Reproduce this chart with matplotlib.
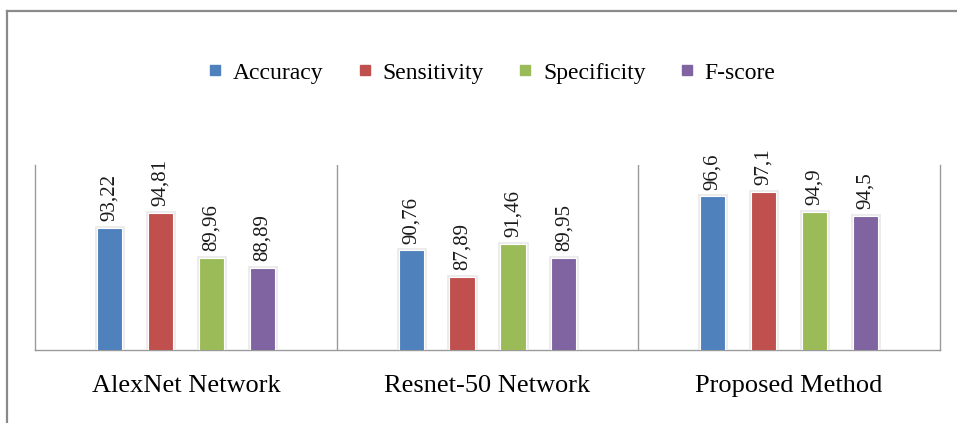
import matplotlib
matplotlib.use("Agg")
import matplotlib.pyplot as plt
import matplotlib.patheffects as pe
from matplotlib.lines import Line2D
import numpy as np

plt.rcParams['font.family'] = ['Liberation Serif', 'DejaVu Serif']

methods = ["AlexNet Network", "Resnet-50 Network", "Proposed Method"]
metrics = ["Accuracy", "Sensitivity", "Specificity", "F-score"]
accuracy = [93.22, 90.76, 96.6]
sensitivity = [94.81, 87.89, 97.1]
specificity = [89.96, 91.46, 94.9]
fscore = [88.89, 89.95, 94.5]
value_labels = [
    ["93,22", "90,76", "96,6"],
    ["94,81", "87,89", "97,1"],
    ["89,96", "91,46", "94,9"],
    ["88,89", "89,95", "94,5"],
]
colors = ["#4F81BD", "#C0504D", "#9BBB59", "#8064A2"]

W, H = 957, 423
fig = plt.figure(figsize=(W / 100, H / 100), dpi=100)
ax = fig.add_axes([35 / W, (H - 350) / H, 905 / W, 185 / H])

series = [accuracy, sensitivity, specificity, fscore]
x = np.arange(len(methods))
step = 0.169
bw = 0.083
for k, (vals, col) in enumerate(zip(series, colors)):
    pos = x + (k - 1.5) * step
    bars = ax.bar(pos, vals, width=bw, color=col, edgecolor="white",
                  linewidth=0.8, zorder=3)
    # soft light-gray halo around each bar
    for b in bars:
        b.set_path_effects([pe.withStroke(linewidth=3.5, foreground="#ebebeb"),
                            pe.Normal()])
    for p, v, lab in zip(pos, vals, value_labels[k]):
        ax.annotate(lab, (p, v), xytext=(0, 5), textcoords="offset points",
                    rotation=90, ha="center", va="bottom", fontsize=15,
                    color="#1a1a1a")

ax.set_xlim(-0.5, len(methods) - 0.5)
ax.set_ylim(80, 100)
ax.set_yticks([])
ax.set_xticks(x)
ax.set_xticklabels(methods, fontsize=19)
ax.tick_params(axis="x", length=0, pad=18)
for s in ["left", "right", "bottom"]:
    ax.spines[s].set_color("#9a9a9a")
    ax.spines[s].set_linewidth(1.0)
ax.spines["top"].set_visible(False)
for sep in x[:-1] + 0.5:
    ax.axvline(sep, color="#9a9a9a", linewidth=1.0, zorder=1)

handles = [Line2D([], [], marker="s", linestyle="none", markersize=7,
                  markerfacecolor=c, markeredgecolor=c) for c in colors]
fig.legend(handles, metrics, loc="center",
           bbox_to_anchor=(0.5 + 14 / W, 1 - 73 / H),
           ncol=4, frameon=False, fontsize=17, handlelength=0.5,
           handletextpad=0.5, columnspacing=1.5)

# outer frame (top and left edges)
fig.add_artist(Line2D([7 / W, 1], [1 - 11 / H, 1 - 11 / H], color="#8a8a8a",
                      linewidth=1.6, transform=fig.transFigure))
fig.add_artist(Line2D([7 / W, 7 / W], [0, 1 - 11 / H], color="#8a8a8a",
                      linewidth=1.6, transform=fig.transFigure))

fig.savefig("out.png", dpi=100, facecolor="white")
